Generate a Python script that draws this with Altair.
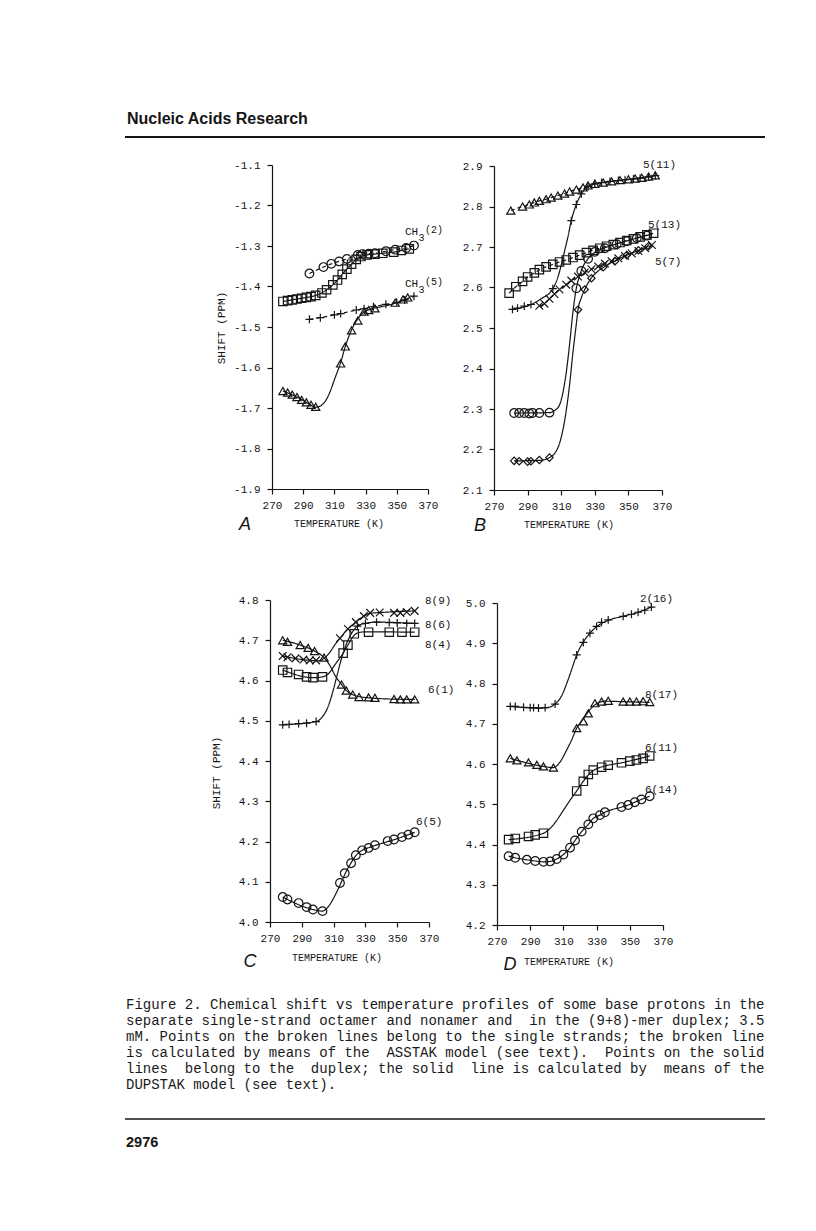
import altair as alt
import pandas as pd

W, H = 800, 1215
INK = "#151515"
MONO = "Liberation Mono"

X_TICKS = [270, 290, 310, 330, 350, 370]

# ---------------- Panel A ----------------
A_Y_TICKS = [-1.9, -1.8, -1.7, -1.6, -1.5, -1.4, -1.3, -1.2, -1.1]
A_CIRC_T = [294, 303, 308, 313, 318, 325, 328, 332, 336, 343, 349, 356, 361]
A_CIRC_V = [-1.368, -1.352, -1.344, -1.338, -1.332, -1.322, -1.320, -1.319, -1.318, -1.313, -1.309, -1.305, -1.299]
A_SQ_T = [277, 280, 283, 286, 289, 292, 295, 298, 302, 305, 309, 312, 315, 318, 321, 324, 327, 331, 336, 341, 348, 353, 358]
A_SQ_V = [-1.437, -1.435, -1.433, -1.431, -1.429, -1.427, -1.425, -1.422, -1.416, -1.408, -1.396, -1.384, -1.370, -1.357, -1.345, -1.333, -1.326, -1.322, -1.320, -1.318, -1.315, -1.311, -1.307]
A_PLUS_T = [294, 301, 310, 314, 324, 329, 335, 343, 350, 355, 361]
A_PLUS_V = [-1.481, -1.477, -1.470, -1.467, -1.458, -1.455, -1.450, -1.444, -1.439, -1.433, -1.424]
A_TRI_T = [277, 280, 283, 286, 289, 292, 295, 298, 314, 317, 321, 325, 329, 332, 336, 349, 354, 357]
A_TRI_V = [-1.658, -1.662, -1.667, -1.673, -1.680, -1.686, -1.692, -1.697, -1.590, -1.548, -1.508, -1.484, -1.462, -1.458, -1.454, -1.440, -1.432, -1.427]
A_TRI_FIT_T = [277, 286, 293, 298, 301, 304, 307, 310, 314, 317, 321, 325, 329, 333, 340, 350, 358]
A_TRI_FIT_V = [-1.658, -1.673, -1.688, -1.698, -1.695, -1.684, -1.662, -1.630, -1.588, -1.548, -1.507, -1.480, -1.463, -1.456, -1.450, -1.440, -1.428]

# ---------------- Panel B ----------------
B_Y_TICKS = [2.1, 2.2, 2.3, 2.4, 2.5, 2.6, 2.7, 2.8, 2.9]
B_TRI_T = [280, 287, 291, 294, 297, 301, 304, 308, 312, 315, 319, 323, 326, 330, 335, 340, 345, 350, 354, 358, 362, 366]
B_TRI_V = [2.790, 2.800, 2.805, 2.810, 2.814, 2.818, 2.822, 2.827, 2.832, 2.837, 2.842, 2.847, 2.852, 2.856, 2.859, 2.862, 2.865, 2.867, 2.869, 2.871, 2.874, 2.877]
B_PLUS_T = [281, 284, 288, 292, 305, 316, 319, 322, 326, 330, 334, 339, 344, 348, 353, 357, 362, 366]
B_PLUS_V = [2.546, 2.549, 2.554, 2.558, 2.597, 2.765, 2.805, 2.831, 2.849, 2.856, 2.859, 2.862, 2.864, 2.866, 2.868, 2.870, 2.873, 2.876]
B_PLUS_FIT_T = [281, 292, 298, 305, 308, 310, 312, 314, 316, 319, 322, 326, 330, 340, 352, 366]
B_PLUS_FIT_V = [2.546, 2.558, 2.572, 2.597, 2.625, 2.655, 2.690, 2.725, 2.765, 2.805, 2.831, 2.849, 2.856, 2.862, 2.868, 2.876]
B_SQ_T = [279, 283, 287, 290, 294, 297, 301, 305, 309, 313, 317, 321, 325, 329, 333, 337, 341, 345, 349, 353, 357, 361, 365]
B_SQ_V = [2.586, 2.602, 2.615, 2.626, 2.636, 2.644, 2.651, 2.657, 2.663, 2.668, 2.674, 2.680, 2.686, 2.692, 2.697, 2.702, 2.706, 2.711, 2.716, 2.720, 2.725, 2.730, 2.734]
B_CIRC_T = [282, 285, 288, 291, 293, 297, 303, 319, 322, 326, 330, 336, 343, 349, 355, 361]
B_CIRC_V = [2.290, 2.290, 2.290, 2.289, 2.290, 2.290, 2.291, 2.598, 2.641, 2.671, 2.688, 2.697, 2.707, 2.714, 2.722, 2.728]
B_CIRC_FIT_T = [282, 303, 306, 309, 311, 313, 315, 317, 319, 321, 323, 326, 330, 336, 345, 355, 364]
B_CIRC_FIT_V = [2.290, 2.291, 2.296, 2.310, 2.340, 2.390, 2.460, 2.540, 2.598, 2.630, 2.652, 2.671, 2.687, 2.698, 2.710, 2.722, 2.732]
B_X_T = [297, 300, 303, 306, 309, 313, 316, 320, 324, 328, 332, 336, 340, 344, 348, 352, 356, 360, 364]
B_X_V = [2.555, 2.560, 2.572, 2.584, 2.595, 2.607, 2.617, 2.627, 2.637, 2.645, 2.652, 2.659, 2.665, 2.672, 2.678, 2.684, 2.690, 2.697, 2.705]
B_DIA_T = [282, 285, 290, 292, 297, 303, 320, 324, 328, 335, 342, 349, 356, 362]
B_DIA_V = [2.172, 2.171, 2.170, 2.171, 2.174, 2.180, 2.545, 2.595, 2.623, 2.650, 2.665, 2.680, 2.692, 2.702]
B_DIA_FIT_T = [282, 297, 303, 306, 309, 312, 315, 317, 319, 320, 322, 324, 327, 331, 336, 345, 355, 362]
B_DIA_FIT_V = [2.172, 2.173, 2.180, 2.190, 2.215, 2.270, 2.360, 2.440, 2.510, 2.545, 2.575, 2.595, 2.618, 2.637, 2.652, 2.672, 2.690, 2.702]

# ---------------- Panel C ----------------
C_Y_TICKS = [4.0, 4.1, 4.2, 4.3, 4.4, 4.5, 4.6, 4.7, 4.8]
C_TRI_T = [278, 281, 289, 294, 298, 304, 315, 318, 322, 326, 332, 336, 348, 352, 356, 361]
C_TRI_V = [4.700, 4.696, 4.688, 4.681, 4.673, 4.657, 4.590, 4.575, 4.565, 4.559, 4.558, 4.557, 4.554, 4.553, 4.553, 4.553]
C_TRI_FIT_T = [278, 289, 298, 304, 308, 311, 315, 318, 322, 326, 332, 345, 361]
C_TRI_FIT_V = [4.700, 4.688, 4.673, 4.657, 4.635, 4.612, 4.590, 4.575, 4.565, 4.560, 4.557, 4.554, 4.553]
C_X_T = [278, 281, 286, 291, 295, 299, 314, 319, 324, 329, 333, 339, 348, 352, 356, 361]
C_X_V = [4.661, 4.658, 4.655, 4.652, 4.650, 4.650, 4.705, 4.728, 4.745, 4.760, 4.768, 4.769, 4.768, 4.768, 4.770, 4.773]
C_X_FIT_T = [278, 295, 300, 304, 308, 311, 314, 319, 324, 329, 333, 340, 361]
C_X_FIT_V = [4.661, 4.650, 4.649, 4.655, 4.672, 4.690, 4.705, 4.728, 4.745, 4.760, 4.767, 4.769, 4.773]
C_SQ_T = [278, 281, 288, 293, 297, 303, 316, 319, 323, 332, 345, 353, 361]
C_SQ_V = [4.626, 4.620, 4.615, 4.609, 4.607, 4.609, 4.668, 4.688, 4.716, 4.720, 4.720, 4.720, 4.720]
C_SQ_FIT_T = [278, 297, 303, 307, 311, 316, 319, 322, 325, 330, 361]
C_SQ_FIT_V = [4.626, 4.607, 4.609, 4.618, 4.640, 4.668, 4.688, 4.708, 4.718, 4.721, 4.720]
C_PLUS_T = [278, 282, 288, 293, 299, 325, 330, 337, 345, 350, 356, 361]
C_PLUS_V = [4.490, 4.491, 4.493, 4.494, 4.498, 4.735, 4.742, 4.745, 4.744, 4.743, 4.742, 4.742]
C_PLUS_FIT_T = [278, 299, 303, 306, 309, 312, 315, 318, 321, 325, 330, 337, 361]
C_PLUS_FIT_V = [4.490, 4.498, 4.510, 4.530, 4.565, 4.610, 4.655, 4.690, 4.715, 4.735, 4.742, 4.745, 4.742]
C_CIRC_T = [278, 281, 288, 293, 297, 303, 314, 317, 321, 324, 328, 332, 336, 344, 348, 353, 357, 361]
C_CIRC_V = [4.062, 4.056, 4.047, 4.037, 4.031, 4.027, 4.097, 4.121, 4.146, 4.166, 4.178, 4.184, 4.191, 4.201, 4.205, 4.211, 4.217, 4.223]
C_CIRC_FIT_T = [278, 297, 303, 306, 309, 312, 315, 318, 321, 324, 328, 333, 340, 350, 361]
C_CIRC_FIT_V = [4.062, 4.031, 4.027, 4.035, 4.052, 4.075, 4.100, 4.126, 4.147, 4.165, 4.178, 4.186, 4.195, 4.207, 4.223]

# ---------------- Panel D ----------------
D_Y_TICKS = [4.2, 4.3, 4.4, 4.5, 4.6, 4.7, 4.8, 4.9, 5.0]
D_PLUS_T = [278, 281, 286, 290, 292, 295, 299, 305, 318, 322, 326, 330, 333, 337, 346, 351, 355, 359, 363]
D_PLUS_V = [4.743, 4.743, 4.741, 4.740, 4.740, 4.739, 4.740, 4.749, 4.871, 4.902, 4.925, 4.942, 4.952, 4.958, 4.967, 4.972, 4.977, 4.982, 4.990]
D_PLUS_FIT_T = [278, 295, 300, 305, 309, 312, 315, 318, 322, 326, 330, 337, 346, 355, 363]
D_PLUS_FIT_V = [4.743, 4.739, 4.740, 4.749, 4.770, 4.800, 4.835, 4.871, 4.903, 4.925, 4.941, 4.957, 4.967, 4.977, 4.990]
D_TRI_T = [278, 282, 289, 294, 298, 304, 318, 322, 325, 329, 333, 337, 346, 350, 354, 358, 362]
D_TRI_V = [4.614, 4.609, 4.604, 4.598, 4.594, 4.591, 4.689, 4.706, 4.726, 4.751, 4.755, 4.757, 4.755, 4.755, 4.755, 4.756, 4.754]
D_TRI_FIT_T = [278, 298, 304, 308, 312, 315, 318, 322, 326, 330, 335, 345, 362]
D_TRI_FIT_V = [4.614, 4.594, 4.591, 4.605, 4.635, 4.660, 4.689, 4.712, 4.735, 4.750, 4.756, 4.755, 4.753]
D_SQ_T = [277, 281, 289, 293, 298, 318, 322, 325, 328, 333, 337, 345, 350, 354, 358, 362]
D_SQ_V = [4.412, 4.415, 4.420, 4.424, 4.428, 4.533, 4.557, 4.574, 4.585, 4.592, 4.597, 4.603, 4.607, 4.610, 4.614, 4.620]
D_SQ_FIT_T = [277, 298, 302, 306, 310, 314, 318, 322, 325, 329, 335, 345, 362]
D_SQ_FIT_V = [4.412, 4.428, 4.440, 4.460, 4.485, 4.510, 4.533, 4.557, 4.573, 4.586, 4.595, 4.603, 4.620]
D_CIRC_T = [277, 281, 288, 293, 298, 302, 306, 310, 314, 317, 321, 325, 328, 332, 335, 345, 349, 353, 357, 362]
D_CIRC_V = [4.371, 4.367, 4.362, 4.359, 4.357, 4.358, 4.364, 4.375, 4.392, 4.410, 4.432, 4.450, 4.465, 4.473, 4.480, 4.493, 4.498, 4.505, 4.512, 4.520]

CAPTION = [
    "Figure 2. Chemical shift vs temperature profiles of some base protons in the",
    "separate single-strand octamer and nonamer and\u00a0 in the (9+8)-mer duplex; 3.5",
    "mM. Points on the broken lines belong to the single strands; the broken line",
    "is calculated by means of the\u00a0 ASSTAK model (see text).\u00a0 Points on the solid",
    "lines\u00a0 belong to the\u00a0 duplex; the solid\u00a0 line is calculated by\u00a0 means of the",
    "DUPSTAK model (see text).",
]

SYMS = ["circle", "square", "triangle", "plus", "x", "diamond"]
SYM_SHAPES = ["circle", "square", "triangle-up", "M-1,0L1,0M0,-1L0,1", "M-1,-1L1,1M-1,1L1,-1", "diamond"]
SYM_SIZES = [75, 55, 58, 70, 48, 60]


def pts_df(series):
    rows = []
    for T, V, sym in series:
        for t, v in zip(T, V):
            rows.append({"T": t, "v": v, "sym": sym})
    return pd.DataFrame(rows)


def curve_df(series):
    rows = []
    for i, (T, V, dash) in enumerate(series):
        for t, v in zip(T, V):
            rows.append({"T": t, "v": v, "cid": i, "dash": dash})
    return pd.DataFrame(rows)


def panel(points, curves, xr, yr, ydom, yticks):
    xsc = alt.Scale(domain=[270, 370], range=xr, nice=False, zero=False)
    ysc = alt.Scale(domain=ydom, range=yr, nice=False, zero=False)
    common = dict(title=None, grid=False, domainColor=INK, tickColor=INK, domainWidth=1.2,
                  tickWidth=1.2, tickSize=5, labelFont=MONO, labelFontSize=11,
                  labelColor=INK, labelOverlap=False, labelFlush=False)
    xax = alt.Axis(values=X_TICKS, format="d", orient="bottom", offset=yr[0] - H,
                   labelPadding=5, **common)
    yax = alt.Axis(values=yticks, orient="left", offset=-xr[0], labelPadding=7,
                   labelExpr="replace(format(datum.value, '.1f'), '\u2212', '-')", **common)
    x = alt.X("T:Q", scale=xsc, axis=xax)
    y = alt.Y("v:Q", scale=ysc, axis=yax)
    lines = alt.Chart(curve_df(curves)).mark_line(
        interpolate="monotone", color=INK, strokeWidth=1.2
    ).encode(
        x=x, y=y, detail="cid:N",
        strokeDash=alt.StrokeDash("dash:N", scale=alt.Scale(domain=["solid", "broken"], range=[[1, 0], [4, 3]]), legend=None),
    )
    pts = alt.Chart(pts_df(points)).mark_point(
        filled=False, color=INK, strokeWidth=1.2, opacity=1
    ).encode(
        x=x, y=y,
        shape=alt.Shape("sym:N", scale=alt.Scale(domain=SYMS, range=SYM_SHAPES), legend=None),
        size=alt.Size("sym:O", scale=alt.Scale(domain=SYMS, range=SYM_SIZES), legend=None),
    )
    return alt.layer(lines, pts)


pA = panel(
    [(A_CIRC_T, A_CIRC_V, "circle"), (A_SQ_T, A_SQ_V, "square"),
     (A_PLUS_T, A_PLUS_V, "plus"), (A_TRI_T, A_TRI_V, "triangle")],
    [(A_CIRC_T, A_CIRC_V, "broken"), (A_SQ_T, A_SQ_V, "solid"),
     (A_PLUS_T, A_PLUS_V, "broken"), (A_TRI_FIT_T, A_TRI_FIT_V, "solid")],
    [264, 420], [481, 157], [-1.9, -1.1], A_Y_TICKS)

pB = panel(
    [(B_TRI_T, B_TRI_V, "triangle"), (B_PLUS_T, B_PLUS_V, "plus"), (B_SQ_T, B_SQ_V, "square"),
     (B_CIRC_T, B_CIRC_V, "circle"), (B_X_T, B_X_V, "x"), (B_DIA_T, B_DIA_V, "diamond")],
    [(B_TRI_T, B_TRI_V, "broken"), (B_PLUS_FIT_T, B_PLUS_FIT_V, "solid"), (B_SQ_T, B_SQ_V, "broken"),
     (B_CIRC_FIT_T, B_CIRC_FIT_V, "solid"), (B_X_T, B_X_V, "broken"), (B_DIA_FIT_T, B_DIA_FIT_V, "solid")],
    [486, 654], [482, 158], [2.1, 2.9], B_Y_TICKS)

pC = panel(
    [(C_TRI_T, C_TRI_V, "triangle"), (C_X_T, C_X_V, "x"), (C_SQ_T, C_SQ_V, "square"),
     (C_PLUS_T, C_PLUS_V, "plus"), (C_CIRC_T, C_CIRC_V, "circle")],
    [(C_TRI_FIT_T, C_TRI_FIT_V, "solid"), (C_X_FIT_T, C_X_FIT_V, "solid"), (C_SQ_FIT_T, C_SQ_FIT_V, "solid"),
     (C_PLUS_FIT_T, C_PLUS_FIT_V, "solid"), (C_CIRC_FIT_T, C_CIRC_FIT_V, "solid")],
    [262, 421], [914, 592], [4.0, 4.8], C_Y_TICKS)

pD = panel(
    [(D_PLUS_T, D_PLUS_V, "plus"), (D_TRI_T, D_TRI_V, "triangle"), (D_SQ_T, D_SQ_V, "square"),
     (D_CIRC_T, D_CIRC_V, "circle")],
    [(D_PLUS_FIT_T, D_PLUS_FIT_V, "solid"), (D_TRI_FIT_T, D_TRI_FIT_V, "solid"),
     (D_SQ_FIT_T, D_SQ_FIT_V, "solid"), (D_CIRC_T, D_CIRC_V, "solid")],
    [489, 655], [917, 595], [4.2, 5.0], D_Y_TICKS)


def txt(s, x, y, size=11, font=MONO, align="left", weight="normal", style="normal", angle=0, color=INK):
    return alt.Chart(pd.DataFrame({"t": [s]})).mark_text(
        align=align, baseline="middle", font=font, fontSize=size, fontWeight=weight,
        fontStyle=style, angle=angle, color=color
    ).encode(x=alt.value(x), y=alt.value(y), text="t:N")


def rule(x1, x2, y, w):
    return alt.Chart(pd.DataFrame({"a": [0]})).mark_rule(color=INK, strokeWidth=w).encode(
        x=alt.value(x1), x2=alt.value(x2), y=alt.value(y))


annots = [
    txt("Nucleic Acids Research", 119, 111, size=16, font="Liberation Sans", weight="bold"),
    rule(117, 757, 129, 2),
    # panel A
    txt("SHIFT (PPM)", 214, 320, size=11, align="center", angle=270),
    txt("TEMPERATURE (K)", 331, 516, size=10, align="center"),
    txt("A", 237, 517, size=18, font="Liberation Sans", style="italic", align="center"),
    txt("CH", 397, 224), txt("3", 410.5, 230, size=10), txt("(2)", 417, 222, size=10),
    txt("CH", 397, 276), txt("3", 410.5, 282, size=10), txt("(5)", 417, 274, size=10),
    # panel B
    txt("TEMPERATURE (K)", 561, 517, size=10, align="center"),
    txt("B", 472, 518, size=18, font="Liberation Sans", style="italic", align="center"),
    txt("5(11)", 635, 157), txt("5(13)", 640, 217), txt("5(7)", 647, 254),
    # panel C
    txt("SHIFT (PPM)", 209, 765, size=11, align="center", angle=270),
    txt("TEMPERATURE (K)", 329, 950, size=10, align="center"),
    txt("C", 242, 954, size=18, font="Liberation Sans", style="italic", align="center"),
    txt("8(9)", 417, 593), txt("8(6)", 417, 617), txt("8(4)", 417, 637),
    txt("6(1)", 420, 682), txt("6(5)", 408, 814),
    # panel D
    txt("TEMPERATURE (K)", 561, 954, size=10, align="center"),
    txt("D", 502, 957, size=18, font="Liberation Sans", style="italic", align="center"),
    txt("2(16)", 632, 591), txt("8(17)", 637, 687), txt("6(11)", 637, 740), txt("6(14)", 637, 782),
]
for i, line in enumerate(CAPTION):
    annots.append(txt(line, 118, 997 + 16 * i, size=14, color="#1a1a1a"))
annots.append(rule(117, 757, 1111, 1.6))
annots.append(txt("2976", 118, 1135, size=14.5, font="Liberation Sans", weight="bold"))

chart = alt.layer(pA, pB, pC, pD, *annots).resolve_scale(
    x="independent", y="independent"
).properties(
    width=W, height=H, padding=0, background="white",
    autosize=alt.AutoSizeParams(type="none"),
).configure_view(stroke=None)

chart.save("out.html", embed_options={"renderer": "svg", "actions": False})
